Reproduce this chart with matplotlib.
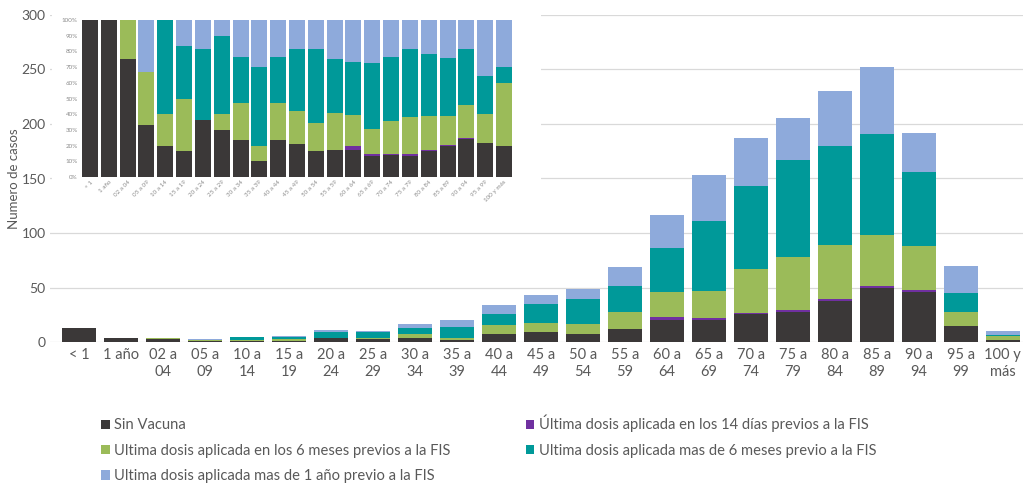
import numpy as np
import matplotlib
matplotlib.use('Agg')
import matplotlib.pyplot as plt
from matplotlib.patches import Rectangle

plt.rcParams['font.family'] = ['Lato', 'DejaVu Sans']

# data: age groups and cases by vaccination status
grupos = ['< 1', '1 año', '02 a 04', '05 a 09', '10 a 14', '15 a 19', '20 a 24', '25 a 29',
          '30 a 34', '35 a 39', '40 a 44', '45 a 49', '50 a 54', '55 a 59', '60 a 64',
          '65 a 69', '70 a 74', '75 a 79', '80 a 84', '85 a 89', '90 a 94', '95 a 99', '100 y más']
grupos_main = ['< 1', '1 año', '02 a\n04', '05 a\n09', '10 a\n14', '15 a\n19', '20 a\n24', '25 a\n29',
               '30 a\n34', '35 a\n39', '40 a\n44', '45 a\n49', '50 a\n54', '55 a\n59', '60 a\n64',
               '65 a\n69', '70 a\n74', '75 a\n79', '80 a\n84', '85 a\n89', '90 a\n94', '95 a\n99', '100 y\nmás']

sin_vacuna = [13, 4, 3, 1, 1, 1, 4, 3, 4, 2, 8, 9, 8, 12, 20, 20, 26, 28, 38, 50, 46, 15, 2]
dias_14    = [0, 0, 0, 0, 0, 0, 0, 0, 0, 0, 0, 0, 0, 0, 3, 2, 1, 2, 2, 2, 2, 0, 0]
meses_6    = [0, 0, 1, 1, 1, 2, 0, 1, 4, 2, 8, 9, 9, 16, 23, 25, 40, 48, 49, 46, 40, 13, 4]
mas_6meses = [0, 0, 0, 0, 3, 2, 5, 5, 5, 10, 10, 17, 23, 24, 40, 64, 76, 89, 91, 93, 68, 17, 1]
mas_1anio  = [0, 0, 0, 1, 0, 1, 2, 1, 4, 6, 8, 8, 9, 17, 31, 42, 44, 38, 50, 61, 36, 25, 3]

etiquetas = ['Sin Vacuna',
             'Última dosis aplicada en los 14 días previos a la FIS',
             'Ultima dosis aplicada en los 6 meses previos a la FIS',
             'Ultima dosis aplicada mas de 6 meses previo a la FIS',
             'Ultima dosis aplicada mas de 1 año previo a la FIS']
colores = ['#3b3838', '#7030a0', '#9bbb59', '#009999', '#8eaadb']

series = np.array([sin_vacuna, dias_14, meses_6, mas_6meses, mas_1anio], dtype=float)
x = np.arange(len(grupos))
W, H = 1023, 486
gray = '#595959'

fig = plt.figure(figsize=(W / 100, H / 100), dpi=100)

# main stacked chart
ax = fig.add_axes([50 / W, 1 - 342.3 / H, 973 / W, (342.3 - 14.7) / H])
bottom = np.zeros(len(grupos))
handles = []
for vals, lab, col in zip(series, etiquetas, colores):
    b = ax.bar(x, vals, 0.81, bottom=bottom, color=col, label=lab, zorder=2)
    handles.append(b)
    bottom += vals

ax.set_xlim(-0.69, 22.48)
ax.set_ylim(0, 300)
ax.set_yticks(range(0, 301, 50))
ax.yaxis.grid(True, color='#d9d9d9', lw=0.9, zorder=0)
ax.set_axisbelow(True)
for s in ax.spines.values():
    s.set_visible(False)
ax.tick_params(length=0, colors=gray, labelsize=10)
ax.tick_params(axis='x', labelsize=10.5, pad=4)
ax.tick_params(axis='y', pad=3)
ax.set_xticks(x)
ax.set_xticklabels(grupos_main, linespacing=1.25)
ax.set_ylabel('Numero de casos', fontsize=9.5, color=gray)
ax.yaxis.set_label_coords(-30 / 973, 0.50)

# white background behind the inset
fig.add_artist(Rectangle((52 / W, 1 - 215 / H), (541 - 52) / W, 215 / H,
                         transform=fig.transFigure, facecolor='white', edgecolor='none', zorder=2))

# inset: percent stacked chart
axin = fig.add_axes([80.6 / W, 1 - 177 / H, 432.8 / W, 157 / H], zorder=3)
axin.patch.set_alpha(0)
pct = series / series.sum(axis=0)
bottom = np.zeros(len(grupos))
for vals, col in zip(pct, colores):
    axin.bar(x, vals, 0.85, bottom=bottom, color=col)
    bottom += vals
axin.set_xlim(-0.5, 22.5)
axin.set_ylim(0, 1)
axin.set_yticks(np.linspace(0, 1, 11))
axin.set_yticklabels(['{}%'.format(i * 10) for i in range(11)])
axin.set_xticks(x)
axin.set_xticklabels(grupos, rotation=45, ha='right', rotation_mode='anchor')
for s in axin.spines.values():
    s.set_visible(False)
axin.tick_params(length=0, colors='#8c8c8c', labelsize=4.5, pad=2)

# legend, row-major order in two columns
order = [0, 2, 4, 1, 3]
fig.legend([handles[i] for i in order], [etiquetas[i] for i in order],
           loc='upper left', bbox_to_anchor=(95 / W, 1 - 409 / H), ncol=2, frameon=False,
           fontsize=10.6, labelcolor=gray, handlelength=0.6, handleheight=0.6,
           handletextpad=0.3, columnspacing=5.1, labelspacing=0.78, borderaxespad=0)

fig.savefig('out.png', dpi=100)
